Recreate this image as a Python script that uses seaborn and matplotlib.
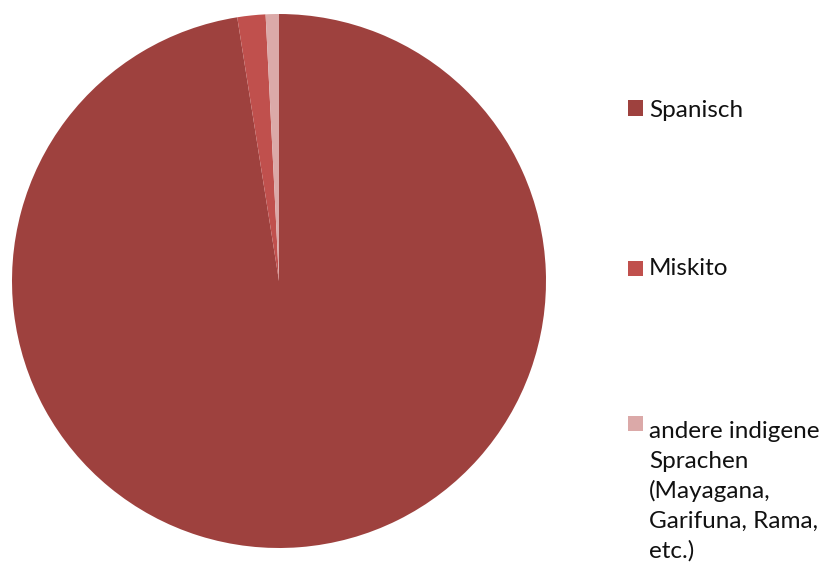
import matplotlib
matplotlib.use("Agg")
import matplotlib.pyplot as plt
import seaborn as sns
from matplotlib.patches import Rectangle

sns.set_theme(style="white")
plt.rcParams['font.family'] = ['Lato', 'DejaVu Sans']

labels = ["Spanisch", "Miskito",
          "andere indigene\nSprachen\n(Mayagana,\nGarifuna, Rama,\netc.)"]
values = [97.5, 1.7, 0.8]
colors = ["#9E413E", "#C0504D", "#DBA9A8"]

W, H = 827, 565
fig = plt.figure(figsize=(W / 100, H / 100), dpi=100)
fig.patch.set_facecolor("white")

cx, cy, r = 279, 281, 267
ax = fig.add_axes([(cx - r) / W, (H - cy - r) / H, 2 * r / W, 2 * r / H])
ax.pie(values, colors=colors, startangle=90, counterclock=False,
       wedgeprops=dict(linewidth=0), radius=1.0)
ax.set_xlim(-1, 1)
ax.set_ylim(-1, 1)
ax.set_aspect("auto")
ax.axis("off")

# legend (manual, positions in pixels)
sq_centers = [108, 268, 423]
baselines = [117, 275, 438]
line_step = 30
sq = 15
for lab, col, yc, yb in zip(labels, colors, sq_centers, baselines):
    fig.patches.append(Rectangle((628 / W, (H - yc - sq / 2) / H), sq / W, sq / H,
                                 transform=fig.transFigure, facecolor=col,
                                 edgecolor="none"))
    for i, line in enumerate(lab.split("\n")):
        fig.text(649 / W, (H - yb - i * line_step) / H, line, fontsize=17.5,
                 color="#111111", va="baseline", ha="left")

fig.savefig("out.png", dpi=100, facecolor="white")
